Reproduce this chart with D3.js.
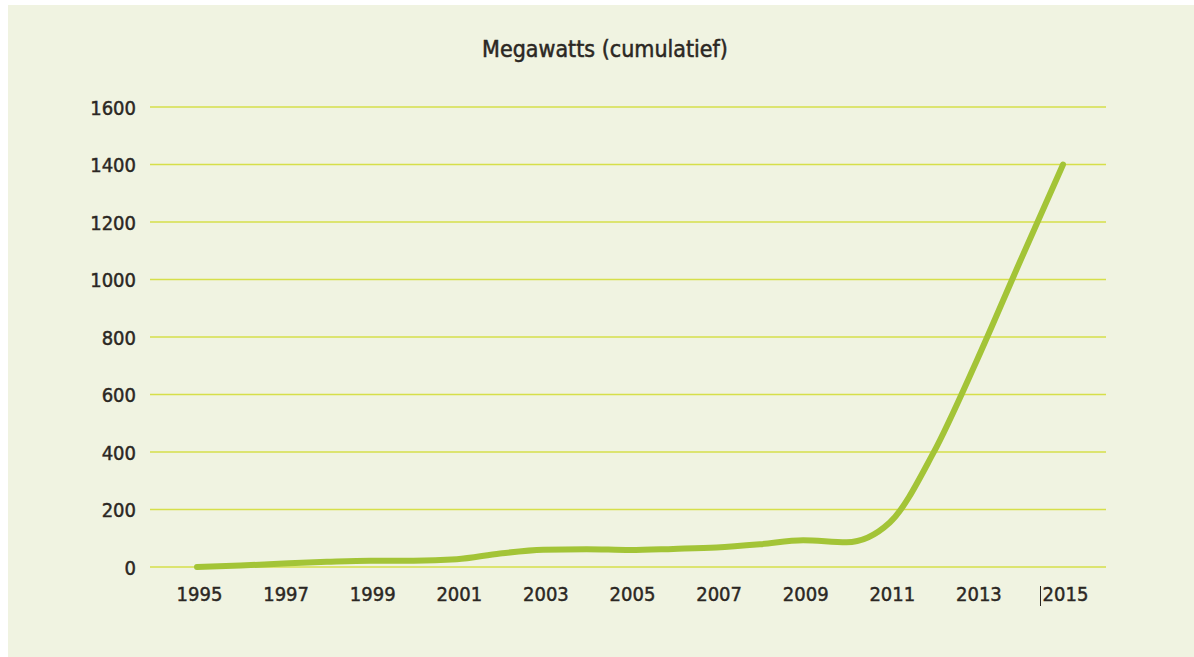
<!DOCTYPE html>
<html>
<head>
<meta charset="utf-8">
<script src="https://cdn.jsdelivr.net/npm/d3@7"></script>
<style>
  html, body { margin: 0; padding: 0; background: #ffffff; }
  svg { display: block; }
</style>
</head>
<body>
<svg id="chart" width="1194" height="657"></svg>
<script>
const years = [1995,1996,1997,1998,1999,2000,2001,2002,2003,2004,2005,2006,2007,2008,2009,2010,2011,2012,2013,2014,2015];
const megawatts = [0,5,12,18,22,22,27,47,60,62,59,63,68,79,93,86,155,395,715,1060,1400];
const xTickLabels = [1995,1997,1999,2001,2003,2005,2007,2009,2011,2013,2015];
const yTickLabels = [0,200,400,600,800,1000,1200,1400,1600];
const title = "Megawatts (cumulatief)";

const svg = d3.select("#chart");
const font = "'DejaVu Sans Condensed', 'DejaVu Sans', sans-serif";
const textColor = "#2b2723";

// panel background
svg.append("rect").attr("x", 8).attr("y", 5).attr("width", 1186).attr("height", 652).attr("fill", "#f0f3e1");

const x = d3.scaleLinear().domain([1995, 2015]).range([197, 1063]);
const y = d3.scaleLinear().domain([0, 1600]).range([567, 107]);
const gridX0 = 150, gridX1 = 1106;

// gridlines
svg.append("g").selectAll("line").data(yTickLabels).join("line")
  .attr("x1", gridX0).attr("x2", gridX1)
  .attr("y1", d => y(d)).attr("y2", d => y(d))
  .attr("stroke", "#d6df4a").attr("stroke-width", 1.6);

// y axis labels
const yAxis = d3.axisLeft(y).tickValues(yTickLabels).tickSize(0).tickPadding(0).tickFormat(d3.format("d"));
const gy = svg.append("g").attr("transform", "translate(136,0)").call(yAxis);
gy.select(".domain").remove();
gy.selectAll("text").attr("font-family", font).attr("font-size", 20).attr("fill", textColor)
  .attr("stroke", textColor).attr("stroke-width", 0.45).attr("dy", "0.36em");

// x axis labels
const xAxis = d3.axisBottom(x).tickValues(xTickLabels).tickSize(0).tickPadding(0).tickFormat(d3.format("d"));
const gx = svg.append("g").attr("transform", "translate(2,587)").call(xAxis);
gx.select(".domain").remove();
gx.selectAll("text").attr("font-family", font).attr("font-size", 20).attr("fill", textColor)
  .attr("stroke", textColor).attr("stroke-width", 0.45).attr("dy", "0.72em");

// cursor mark before 2015
svg.append("line").attr("x1", x(2015) - 22.5).attr("x2", x(2015) - 22.5)
  .attr("y1", 586).attr("y2", 606).attr("stroke", textColor).attr("stroke-width", 1);

// title
svg.append("text").attr("x", 605).attr("y", 57).attr("text-anchor", "middle")
  .attr("font-family", font).attr("font-size", 23).attr("fill", textColor)
  .attr("stroke", textColor).attr("stroke-width", 0.5).text(title);

// line
const line = d3.line().x((d, i) => x(years[i])).y(d => y(d)).curve(d3.curveMonotoneX);
svg.append("path").datum(megawatts).attr("d", line)
  .attr("fill", "none").attr("stroke", "#a3c437").attr("stroke-width", 6)
  .attr("stroke-linecap", "round").attr("stroke-linejoin", "round");
</script>
</body>
</html>
